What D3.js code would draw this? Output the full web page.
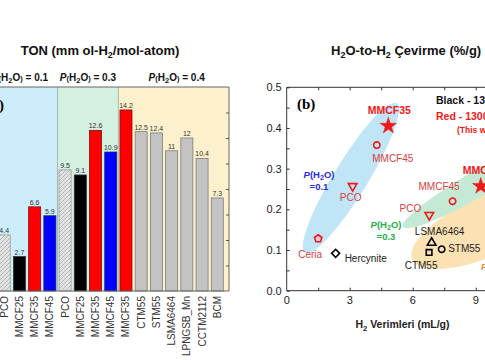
<!DOCTYPE html>
<html>
<head>
<meta charset="utf-8">
<script src="https://cdn.jsdelivr.net/npm/d3@7"></script>
<style>
  body { margin: 0; background: #fff; }
  svg { display: block; font-family: Arial, 'Liberation Sans', sans-serif; }
</style>
</head>
<body>
<div id="view"></div>
<script>
'use strict';

// ---- data: bar chart (a) ----
const barLabels = ['PCO', 'MMCF25', 'MMCF35', 'MMCF45', 'PCO', 'MMCF25', 'MMCF35', 'MMCF45',
  'MMCF35', 'CTM55', 'STM55', 'LSMA6464', 'LPNGSB_Mn', 'CCTM2112', 'BCM'];
const barValues = [4.4, 2.7, 6.6, 5.9, 9.5, 9.1, 12.6, 10.9, 14.2, 12.5, 12.4, 11, 12, 10.4, 7.3];
const barKinds = ['hatch', 'black', 'red', 'blue', 'hatch', 'black', 'red', 'blue',
  'red', 'gray', 'gray', 'gray', 'gray', 'gray', 'gray'];
const groupPressures = ['0.1', '0.3', '0.4'];
const groupFirstBar = [0, 4, 8];
const groupLastBar = [3, 7, 14];
const barTicks = [2, 4, 6, 8, 10, 12, 14];

// ---- data: scatter (b) ----
const ptNames = ['Ceria', 'Hercynite', 'PCO', 'MMCF45', 'MMCF35', 'PCO', 'MMCF45', 'MMCF35',
  'LSMA6464', 'CTM55', 'STM55'];
const ptYield = [1.5, 2.33, 3.14, 4.29, 4.84, 6.79, 7.9, 9.24, 6.9, 6.78, 7.38];
const ptConversion = [0.128, 0.092, 0.257, 0.358, 0.405, 0.186, 0.22, 0.257, 0.118, 0.094, 0.102];
const ptShapes = ['pentagon', 'diamond', 'triangleDown', 'circle', 'star', 'triangleDown', 'circle',
  'star', 'triangleUp', 'square', 'circle'];
const ptGroups = ['red', 'black', 'red', 'red', 'red', 'red', 'red', 'red', 'black', 'black', 'black'];
const xTickLabels = [0, 3, 6, 9];
const yTickLabels = [0.0, 0.1, 0.2, 0.3, 0.4, 0.5];

// highlighted P(H2O) zones: two ends of each ellipse in data units
const zoneNames = ['0.4', '0.3', '0.1'];
const zoneStart = [[5.98, 0.077], [5.54, 0.157], [0.87, 0.093]];
const zoneEnd = [[13.38, 0.246], [12.96, 0.378], [5.24, 0.461]];

// ---- layout / presentation ----
const W = 485, H = 360;
const barArea = { left: -7.5, right: 229, top: 87, bottom: 291 };
const scatArea = { left: 286.7, top: 87.3, bottom: 290.7 };

const presentation = {
  text: '#222',
  red: '#f01818',
  redText: '#d8403c',
  fill_group: ['#ccedf9', '#d3f0e0', '#fdf1cd'],
  fill_zone: { '0.1': '#bfe5f6', '0.3': '#c4ead6', '0.4': '#fce2b2' },
  zoneHalfWidth: { '0.1': 17, '0.3': 13, '0.4': 30 }
};

const barFill = { hatch: 'url(#hatch)', black: '#000', red: '#ff0000', blue: '#0000ff', gray: '#c3c3c3' };
const barStroke = { hatch: '#9a9a9a', black: '#333', red: '#7a1010', blue: '#20206a', gray: '#7d7d7d' };

// label offsets (px) for the scatter points, same order as ptNames
const labelLayout = [
  { dx: -8, dy: 19, anchor: 'middle' },
  { dx: 9, dy: 8.5, anchor: 'start' },
  { dx: -2, dy: 15, anchor: 'middle' },
  { dx: 16, dy: 16.7, anchor: 'middle' },
  { dx: 1, dy: -12, anchor: 'middle', bold: true },
  { dx: -8, dy: -3.3, anchor: 'end' },
  { dx: -13.5, dy: -11.7, anchor: 'middle' },
  { dx: -18, dy: -12, anchor: 'start', bold: true },
  { dx: 8, dy: -7.7, anchor: 'middle' },
  { dx: -8, dy: 16.7, anchor: 'middle' },
  { dx: 6.5, dy: 3, anchor: 'start' }
];

const svg = d3.select('#view').append('svg')
  .attr('width', W)
  .attr('height', H);

const defs = svg.append('defs');
const hatch = defs.append('pattern')
  .attr('id', 'hatch')
  .attr('patternUnits', 'userSpaceOnUse')
  .attr('width', 4)
  .attr('height', 4);
hatch.append('rect').attr('width', 4).attr('height', 4).attr('fill', '#e4e4e4');
hatch.append('path')
  .attr('d', 'M-1,1 l2,-2 M0,4 l4,-4 M3,5 l2,-2')
  .attr('stroke', '#b4b4b4')
  .attr('stroke-width', 1);

// helper: P(H2O) with subscript
function addPH2O(sel, suffix, small) {
  sel.append('tspan').attr('font-style', 'italic').text('P');
  sel.append('tspan').attr('font-size', small ? '0.75em' : '1em').text('(');
  sel.append('tspan').text('H');
  sel.append('tspan').attr('font-size', '0.75em').attr('dy', 2).text('2');
  sel.append('tspan').attr('dy', -2).text('O');
  sel.append('tspan').attr('font-size', small ? '0.75em' : '1em').text(')');
  if (suffix) sel.append('tspan').text(suffix);
}

// =================== (a) bar chart ===================
const xBar = d3.scaleBand()
  .domain(d3.range(barValues.length))
  .range([barArea.left, barArea.right])
  .paddingInner(0.21)
  .paddingOuter(0.374);

const yBar = d3.scaleLinear()
  .domain([0, 16])
  .range([barArea.bottom, barArea.top]);

const gBar = svg.append('g').attr('class', 'bars');

// group backgrounds
const groupEdges = groupFirstBar.map((first, i) => {
  const x0 = i === 0 ? barArea.left : (xBar(first) + xBar(first - 1) + xBar.bandwidth()) / 2;
  const last = groupLastBar[i];
  const x1 = i === groupLastBar.length - 1 ? barArea.right
    : (xBar(last) + xBar.bandwidth() + xBar(last + 1)) / 2;
  return [x0, x1];
});

gBar.selectAll('rect.group')
  .data(groupEdges)
  .enter()
  .append('rect')
  .attr('class', 'group')
  .attr('x', d => d[0])
  .attr('y', barArea.top)
  .attr('width', d => d[1] - d[0])
  .attr('height', barArea.bottom - barArea.top)
  .attr('fill', (d, i) => presentation.fill_group[i]);

gBar.selectAll('line.sep')
  .data(groupEdges.slice(1))
  .enter()
  .append('line')
  .attr('x1', d => d[0]).attr('x2', d => d[0])
  .attr('y1', barArea.top).attr('y2', barArea.bottom)
  .attr('stroke', '#a8b8b0')
  .attr('stroke-width', 1);

gBar.selectAll('text.group')
  .data(groupPressures)
  .enter()
  .append('text')
  .attr('class', 'group')
  .attr('x', (d, i) => i === 0 ? 20 : (groupEdges[i][0] + groupEdges[i][1]) / 2 + (i === 2 ? 3 : 0))
  .attr('y', 81)
  .attr('text-anchor', 'middle')
  .attr('font-size', 10)
  .attr('font-weight', 'bold')
  .attr('fill', '#111')
  .each(function(d) { addPH2O(d3.select(this), ' = ' + d, true); });

gBar.selectAll('rect.bar')
  .data(barValues)
  .enter()
  .append('rect')
  .attr('class', 'bar')
  .attr('x', (d, i) => xBar(i))
  .attr('y', d => yBar(d))
  .attr('width', xBar.bandwidth())
  .attr('height', d => yBar(0) - yBar(d))
  .attr('fill', (d, i) => barFill[barKinds[i]])
  .attr('stroke', (d, i) => barStroke[barKinds[i]])
  .attr('stroke-width', 0.8);

gBar.selectAll('text.value')
  .data(barValues)
  .enter()
  .append('text')
  .attr('class', 'value')
  .attr('x', (d, i) => xBar(i) + xBar.bandwidth() / 2)
  .attr('y', d => yBar(d) - 2)
  .attr('text-anchor', 'middle')
  .attr('font-size', 7)
  .attr('fill', '#333')
  .text(d => d);

// frame: top, right, bottom
gBar.append('path')
  .attr('d', `M${barArea.left},${barArea.top}H${barArea.right}V${barArea.bottom}H${barArea.left}`)
  .attr('fill', 'none')
  .attr('stroke', '#666')
  .attr('stroke-width', 1);

gBar.append('g')
  .attr('transform', `translate(${barArea.right},0)`)
  .call(d3.axisLeft(yBar).tickValues(barTicks).tickSize(-3).tickFormat(''))
  .call(g => g.select('.domain').remove())
  .call(g => g.selectAll('line').attr('stroke', '#555').attr('transform', 'translate(-3,0)'));

gBar.selectAll('text.cat')
  .data(barLabels)
  .enter()
  .append('text')
  .attr('class', 'cat')
  .attr('transform', (d, i) => `translate(${xBar(i) + xBar.bandwidth() / 2 + 3.5},${barArea.bottom + 5})rotate(-90)`)
  .attr('text-anchor', 'end')
  .attr('font-size', 10)
  .attr('fill', '#333')
  .text(d => d);

svg.append('text')
  .attr('x', 100)
  .attr('y', 55)
  .attr('text-anchor', 'middle')
  .attr('font-size', 13)
  .attr('font-weight', 'bold')
  .attr('fill', '#111')
  .call(t => {
    t.append('tspan').text('TON (mm ol-H');
    t.append('tspan').attr('font-size', 9).attr('dy', 3).text('2');
    t.append('tspan').attr('dy', -3).text('/mol-atom)');
  });

svg.append('text')
  .attr('x', 4)
  .attr('y', 110)
  .attr('text-anchor', 'end')
  .attr('font-family', "'Liberation Serif', 'Times New Roman', serif")
  .attr('font-weight', 'bold')
  .attr('font-size', 15)
  .text('(a)');

// =================== (b) scatter ===================
const xS = d3.scaleLinear().domain([0, 10]).range([scatArea.left, scatArea.left + 210]);
const yS = d3.scaleLinear().domain([0, 0.5]).range([scatArea.bottom, scatArea.top]);

const gScat = svg.append('g').attr('class', 'scatter');

// zones
zoneNames.forEach((name, i) => {
  const x0 = xS(zoneStart[i][0]), y0 = yS(zoneStart[i][1]);
  const x1 = xS(zoneEnd[i][0]), y1 = yS(zoneEnd[i][1]);
  const cx = (x0 + x1) / 2, cy = (y0 + y1) / 2;
  const rx = Math.hypot(x1 - x0, y1 - y0) / 2;
  const angle = Math.atan2(y1 - y0, x1 - x0) * 180 / Math.PI;
  gScat.append('ellipse')
    .attr('transform', `translate(${cx},${cy})rotate(${angle})`)
    .attr('rx', rx)
    .attr('ry', presentation.zoneHalfWidth[name])
    .attr('fill', presentation.fill_zone[name]);
});

// frame + ticks
gScat.append('path')
  .attr('d', `M${W + 5},${scatArea.top}H${scatArea.left}V${scatArea.bottom}H${W + 5}`)
  .attr('fill', 'none')
  .attr('stroke', '#333')
  .attr('stroke-width', 1);

gScat.append('g')
  .attr('transform', `translate(${scatArea.left},0)`)
  .call(d3.axisLeft(yS).tickValues(d3.range(0, 0.501, 0.05)).tickSize(-3).tickFormat(''))
  .call(g => g.select('.domain').remove())
  .call(g => g.selectAll('line').attr('stroke', '#333'));

gScat.append('g')
  .attr('transform', `translate(0,${scatArea.bottom})`)
  .call(d3.axisBottom(xS).tickValues(d3.range(1.5, 10, 1.5)).tickSize(-3).tickFormat(''))
  .call(g => g.select('.domain').remove())
  .call(g => g.selectAll('line').attr('stroke', '#333'));

gScat.append('g')
  .attr('transform', `translate(0,${scatArea.top})`)
  .call(d3.axisTop(xS).tickValues(d3.range(1.5, 10, 1.5)).tickSize(-3).tickFormat(''))
  .call(g => g.select('.domain').remove())
  .call(g => g.selectAll('line').attr('stroke', '#333'));

gScat.selectAll('text.ytick')
  .data(yTickLabels)
  .enter()
  .append('text')
  .attr('x', scatArea.left - 5)
  .attr('y', d => yS(d) + 4)
  .attr('text-anchor', 'end')
  .attr('font-size', 11)
  .attr('fill', presentation.text)
  .text(d => d.toFixed(1));

gScat.selectAll('text.xtick')
  .data(xTickLabels)
  .enter()
  .append('text')
  .attr('x', d => xS(d))
  .attr('y', scatArea.bottom + 13)
  .attr('text-anchor', 'middle')
  .attr('font-size', 11)
  .attr('fill', presentation.text)
  .text(d => d);

// markers
const pentagon = {
  draw(context, size) {
    const r = Math.sqrt(size / 2.378);
    for (let k = 0; k < 5; ++k) {
      const a = -Math.PI / 2 + k * 2 * Math.PI / 5;
      if (k === 0) context.moveTo(r * Math.cos(a), r * Math.sin(a));
      else context.lineTo(r * Math.cos(a), r * Math.sin(a));
    }
    context.closePath();
  }
};

const shapeDef = {
  pentagon: { type: pentagon, size: 36, rot: 0 },
  diamond: { type: d3.symbolSquare, size: 32, rot: 45 },
  triangleDown: { type: d3.symbolTriangle, size: 32, rot: 180 },
  triangleUp: { type: d3.symbolTriangle, size: 32, rot: 0 },
  circle: { type: d3.symbolCircle, size: 32, rot: 0 },
  square: { type: d3.symbolSquare, size: 32, rot: 0 },
  star: { type: d3.symbolStar, size: 85, rot: 0 }
};

gScat.selectAll('path.pt')
  .data(ptNames)
  .enter()
  .append('path')
  .attr('class', 'pt')
  .attr('transform', (d, i) => `translate(${xS(ptYield[i])},${yS(ptConversion[i])})rotate(${shapeDef[ptShapes[i]].rot})`)
  .attr('d', (d, i) => d3.symbol(shapeDef[ptShapes[i]].type, shapeDef[ptShapes[i]].size)())
  .attr('fill', (d, i) => ptShapes[i] === 'star' ? presentation.red
    : ptShapes[i] === 'pentagon' ? '#f6c9cf' : 'none')
  .attr('stroke', (d, i) => ptGroups[i] === 'red' ? presentation.red : '#000')
  .attr('stroke-width', (d, i) => ptShapes[i] === 'star' ? 0.5 : 1.6);

gScat.selectAll('text.pt')
  .data(ptNames)
  .enter()
  .append('text')
  .attr('class', 'pt')
  .attr('x', (d, i) => xS(ptYield[i]) + labelLayout[i].dx)
  .attr('y', (d, i) => yS(ptConversion[i]) + labelLayout[i].dy)
  .attr('text-anchor', (d, i) => labelLayout[i].anchor)
  .attr('font-size', (d, i) => labelLayout[i].bold ? 10.5 : 10)
  .attr('font-weight', (d, i) => labelLayout[i].bold ? 'bold' : 'normal')
  .attr('fill', (d, i) => ptGroups[i] === 'red' ? (labelLayout[i].bold ? presentation.red : presentation.redText) : presentation.text)
  .text(d => d);

// zone annotations
const zoneNotes = [
  { p: '0.1', x: 319, y: 178, color: '#2a2ae0' },
  { p: '0.3', x: 386, y: 227.5, color: '#22b04a' },
  { p: '0.4', x: 481, y: 270, color: '#f08a2c', anchor: 'start' }
];
zoneNotes.forEach(n => {
  const t = gScat.append('text')
    .attr('x', n.x)
    .attr('y', n.y)
    .attr('text-anchor', n.anchor || 'middle')
    .attr('font-size', 9.5)
    .attr('font-weight', 'bold')
    .attr('fill', n.color);
  addPH2O(t, null, false);
  gScat.append('text')
    .attr('x', n.anchor ? n.x + 4 : n.x)
    .attr('y', n.y + 12)
    .attr('text-anchor', n.anchor || 'middle')
    .attr('font-size', 9.5)
    .attr('font-weight', 'bold')
    .attr('fill', n.color)
    .text('=' + n.p);
});

// legend
gScat.append('text')
  .attr('x', 436).attr('y', 104)
  .attr('font-size', 10.5).attr('font-weight', 'bold').attr('fill', '#111')
  .text('Black - 1350 °C');
gScat.append('text')
  .attr('x', 436).attr('y', 120)
  .attr('font-size', 10.5).attr('font-weight', 'bold').attr('fill', presentation.red)
  .text('Red - 1300 °C');
gScat.append('text')
  .attr('x', 457).attr('y', 133)
  .attr('font-size', 8.5).attr('font-weight', 'bold').attr('fill', presentation.red)
  .text('(This work)');

svg.append('text')
  .attr('x', 297)
  .attr('y', 109)
  .attr('font-family', "'Liberation Serif', 'Times New Roman', serif")
  .attr('font-weight', 'bold')
  .attr('font-size', 15)
  .text('(b)');

// titles
svg.append('text')
  .attr('x', 331)
  .attr('y', 55)
  .attr('font-size', 13)
  .attr('font-weight', 'bold')
  .attr('fill', '#111')
  .call(t => {
    t.append('tspan').text('H');
    t.append('tspan').attr('font-size', 9).attr('dy', 3).text('2');
    t.append('tspan').attr('dy', -3).text('O-to-H');
    t.append('tspan').attr('font-size', 9).attr('dy', 3).text('2');
    t.append('tspan').attr('dy', -3).text(' Çevirme (%/g)');
  });

svg.append('text')
  .attr('x', 402.5)
  .attr('y', 328)
  .attr('text-anchor', 'middle')
  .attr('font-size', 10.5)
  .attr('font-weight', 'bold')
  .attr('fill', '#222')
  .call(t => {
    t.append('tspan').text('H');
    t.append('tspan').attr('font-size', 7.5).attr('dy', 2.5).text('2');
    t.append('tspan').attr('dy', -2.5).text(' Verimleri (mL/g)');
  });
</script>
</body>
</html>
